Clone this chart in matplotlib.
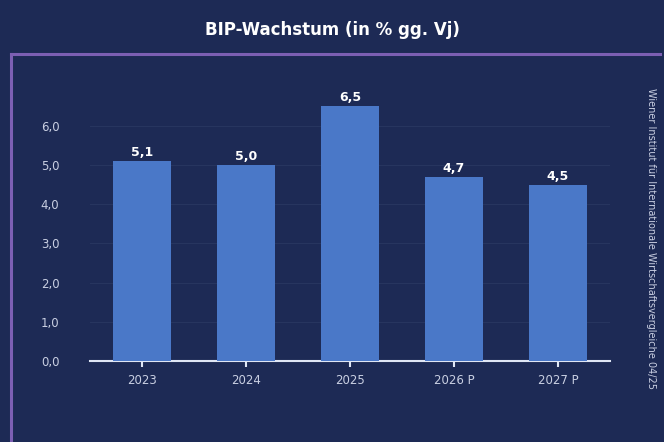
import matplotlib
matplotlib.use("Agg")
import matplotlib.pyplot as plt
from matplotlib.lines import Line2D

categories = ["2023", "2024", "2025", "2026 P", "2027 P"]
values = [5.1, 5.0, 6.5, 4.7, 4.5]
value_labels = ["5,1", "5,0", "6,5", "4,7", "4,5"]
yticks = [0, 1, 2, 3, 4, 5, 6]
ytick_labels = ["0,0", "1,0", "2,0", "3,0", "4,0", "5,0", "6,0"]
title = "BIP-Wachstum (in % gg. Vj)"
source = "Wiener Institut für Internationale Wirtschaftsvergleiche 04/25"

bg = "#1d2a55"
bar_color = "#4a78c8"
tick_color = "#c9cfe2"

fig = plt.figure(figsize=(6.64, 4.42), dpi=100, facecolor=bg)
W, H = 664, 442

# purple frame lines
fig.add_artist(Line2D([11 / W, 660 / W], [1 - 54 / H, 1 - 54 / H], color="#7c5fb3", lw=2.2, transform=fig.transFigure))
fig.add_artist(Line2D([11 / W, 11 / W], [1 - 54 / H, 0], color="#7c5fb3", lw=2.2, transform=fig.transFigure))

fig.text(332 / W, 1 - 30 / H, title, ha="center", va="center", color="white",
         fontsize=12, fontweight="bold", family="DejaVu Sans")

ax = fig.add_axes([90 / W, 1 - 361 / H, 520 / W, 266.6 / H])
ax.set_facecolor(bg)
x = list(range(len(categories)))
ax.bar(x, values, width=0.55, color=bar_color, zorder=3)
for xi, v, lab in zip(x, values, value_labels):
    ax.text(xi, v + 0.05, lab, ha="center", va="bottom", color="white",
            fontsize=9, fontweight="bold")

ax.set_xlim(-0.5, 4.5)
ax.set_ylim(0, 6.8)
ax.set_yticks(yticks)
ax.set_yticklabels(ytick_labels)
ax.set_xticks(x)
ax.set_xticklabels(categories)
ax.tick_params(axis="y", length=0, colors=tick_color, labelsize=8.5, pad=22)
ax.tick_params(axis="x", length=4, width=1.5, color="#dfe6f5", colors=tick_color, labelsize=8.5, pad=5)
ax.grid(axis="y", color="#27355f", lw=0.8, zorder=0)
for s in ["top", "right", "left"]:
    ax.spines[s].set_visible(False)
ax.spines["bottom"].set_color("#dfe6f5")
ax.spines["bottom"].set_linewidth(1.5)

fig.text(651 / W, 1 - 238 / H, source, rotation=270, ha="center", va="center",
         color=tick_color, fontsize=7)

fig.savefig("out.png", dpi=100, facecolor=bg)
